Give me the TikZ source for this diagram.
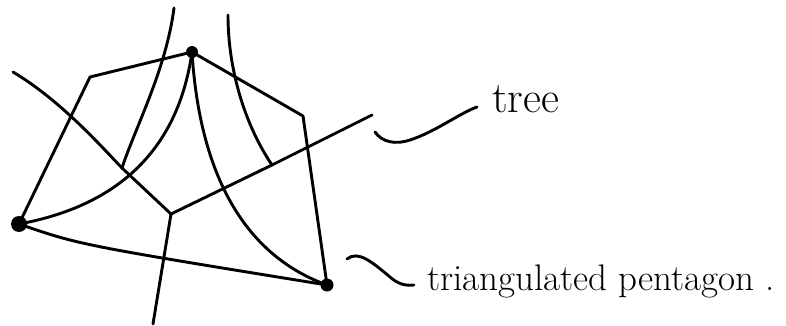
\documentclass[tikz,border=0pt]{standalone}
\begin{document}
\begin{tikzpicture}[x=1pt,y=-1pt,
  stroke/.style={line width=2.9pt,line cap=round,line join=round},
  vdot/.style={circle,fill=black,inner sep=0pt},
  lbl/.style={inner sep=0pt,anchor=base west}]
\useasboundingbox (0,0) rectangle (786,326);
% pentagon vertices
\node[vdot,minimum size=12pt] (A) at (192,52) {};
\coordinate (B) at (90,77);
\node[vdot,minimum size=16pt] (C) at (19,224) {};
\node[vdot,minimum size=13pt] (D) at (327,285) {};
\coordinate (E) at (303,116);
% pentagon edges
\draw[stroke] (A.center) -- (B) -- (C.center);
\draw[stroke] (C.center) .. controls (80,245) .. (D.center);
\draw[stroke] (D.center) -- (E) -- (A.center);
% diagonals
\draw[stroke] (A.center) .. controls (183,115) and (150,200) .. (C.center);
\draw[stroke] (A.center) .. controls (198,150) and (230,250) .. (D.center);
% tree
\coordinate (L1) at (13,72);
\coordinate (J1) at (122,168);
\coordinate (T) at (171,214);
\coordinate (J2) at (272,165);
\coordinate (R1) at (372,115);
\coordinate (Bt) at (153,324);
\coordinate (U1) at (174,8);
\coordinate (U2) at (228,15);
\draw[stroke] (L1) .. controls (60,100) and (100,145) .. (J1) -- (T);
\draw[stroke] (T) -- (J2) -- (R1);
\draw[stroke] (T) -- (Bt);
\draw[stroke] (J1) .. controls (135,128) and (166,70) .. (U1);
\draw[stroke] (J2) .. controls (245,125) and (228,70) .. (U2);
% labels
\node[lbl,font=\fontsize{44}{50}\selectfont] (tree) at (492,113) {tree};
\node[lbl,font=\fontsize{37}{44}\selectfont] (tri) at (427,290) {triangulated pentagon .};
\coordinate (s1) at (375,132);
\coordinate (s1e) at (477,107);
\coordinate (s2) at (347,259);
\coordinate (s2e) at (414,285);
\draw[stroke] (s1) .. controls (382,142) and (395,145) .. (410,140) .. controls (435,132) and (460,113) .. (s1e);
\draw[stroke] (s2) .. controls (358,250) and (372,262) .. (390,277) .. controls (398,284) and (405,286) .. (s2e);
\end{tikzpicture}
\end{document}
